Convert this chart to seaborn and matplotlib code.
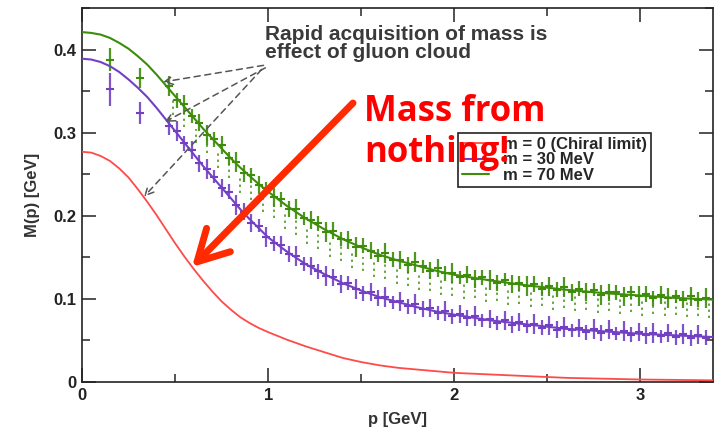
import numpy as np
import pandas as pd
import matplotlib
matplotlib.use("Agg")
import matplotlib.pyplot as plt
from matplotlib.ticker import MultipleLocator
import seaborn as sns

# ---------------- data ----------------
red_p = [0.0, 0.05, 0.10, 0.15, 0.20, 0.25, 0.30, 0.35, 0.40, 0.45, 0.50, 0.55, 0.60,
         0.65, 0.70, 0.75, 0.80, 0.85, 0.90, 0.95, 1.00, 1.10, 1.20, 1.30, 1.40, 1.50,
         1.60, 1.70, 1.80, 2.00, 2.20, 2.40, 2.60, 2.80, 3.00, 3.20, 3.40]
red_m = [0.277, 0.276, 0.272, 0.266, 0.257, 0.246, 0.232, 0.217, 0.201, 0.184, 0.167,
         0.151, 0.136, 0.122, 0.109, 0.097, 0.087, 0.078, 0.071, 0.065, 0.060, 0.051,
         0.043, 0.036, 0.029, 0.024, 0.020, 0.017, 0.015, 0.011, 0.009, 0.007, 0.005,
         0.004, 0.003, 0.0025, 0.002]

curve_p = [0.0, 0.05, 0.10, 0.15, 0.20, 0.25, 0.30, 0.35, 0.40, 0.45, 0.50, 0.55, 0.60,
           0.65, 0.70, 0.75, 0.80, 0.85, 0.90, 0.95, 1.00, 1.1, 1.2, 1.3, 1.4, 1.5, 1.6,
           1.7, 1.8, 1.9, 2.0, 2.2, 2.4, 2.6, 2.8, 3.0, 3.2, 3.4]
green_curve = [0.421, 0.420, 0.418, 0.414, 0.408, 0.401, 0.392, 0.382, 0.370, 0.357,
               0.344, 0.331, 0.318, 0.305, 0.293, 0.281, 0.269, 0.258, 0.248, 0.238,
               0.229, 0.212, 0.197, 0.184, 0.172, 0.162, 0.153, 0.146, 0.140, 0.134,
               0.129, 0.122, 0.116, 0.111, 0.107, 0.104, 0.101, 0.099]
purple_curve = [0.389, 0.388, 0.385, 0.380, 0.373, 0.364, 0.354, 0.343, 0.330, 0.316,
                0.302, 0.288, 0.274, 0.260, 0.247, 0.234, 0.221, 0.208, 0.196, 0.185,
                0.174, 0.157, 0.142, 0.130, 0.119, 0.110, 0.102, 0.096, 0.090, 0.085,
                0.081, 0.074, 0.069, 0.064, 0.061, 0.058, 0.056, 0.054]

data_p = [0.15, 0.31,
          0.47, 0.51, 0.55, 0.59, 0.63, 0.67, 0.71, 0.75, 0.79, 0.83, 0.87, 0.91, 0.95,
          0.99, 1.03, 1.07, 1.11, 1.15, 1.19, 1.23, 1.27, 1.31, 1.35, 1.39, 1.43, 1.47,
          1.51, 1.55, 1.59, 1.63, 1.67, 1.71, 1.75, 1.79, 1.83, 1.87, 1.91, 1.95, 1.99,
          2.03, 2.07, 2.11, 2.15, 2.19, 2.23, 2.27, 2.31, 2.35, 2.39, 2.43, 2.47, 2.51,
          2.55, 2.59, 2.63, 2.67, 2.71, 2.75, 2.79, 2.83, 2.87, 2.91, 2.95, 2.99, 3.03,
          3.07, 3.11, 3.15, 3.19, 3.23, 3.27, 3.31, 3.35]
green_data = [0.388, 0.366,
              0.356, 0.339, 0.334, 0.320, 0.312, 0.297, 0.292, 0.285, 0.269, 0.265, 0.251,
              0.249, 0.237, 0.233, 0.222, 0.220, 0.208, 0.208, 0.197, 0.195, 0.191, 0.181,
              0.182, 0.172, 0.171, 0.162, 0.164, 0.158, 0.152, 0.155, 0.147, 0.147, 0.141,
              0.144, 0.139, 0.134, 0.137, 0.131, 0.131, 0.126, 0.129, 0.124, 0.126, 0.123,
              0.119, 0.123, 0.118, 0.119, 0.116, 0.118, 0.112, 0.115, 0.111, 0.114, 0.108,
              0.112, 0.108, 0.111, 0.105, 0.108, 0.108, 0.103, 0.108, 0.103, 0.106, 0.101,
              0.105, 0.101, 0.103, 0.099, 0.103, 0.099, 0.101]
green_err = [0.014, 0.012,
             0.012, 0.009, 0.011, 0.008, 0.010, 0.012, 0.009, 0.011, 0.008, 0.012, 0.010,
             0.009, 0.011, 0.008, 0.012, 0.009, 0.010, 0.012, 0.008, 0.011, 0.009, 0.012,
             0.010, 0.008, 0.011, 0.012, 0.009, 0.010, 0.008, 0.012, 0.009, 0.011, 0.010,
             0.012, 0.008, 0.010, 0.011, 0.009, 0.012, 0.008, 0.010, 0.011, 0.009, 0.012,
             0.010, 0.008, 0.011, 0.009, 0.012, 0.010, 0.008, 0.011, 0.009, 0.012, 0.010,
             0.009, 0.011, 0.008, 0.012, 0.010, 0.009, 0.011, 0.008, 0.012, 0.010, 0.009,
             0.011, 0.012, 0.008, 0.010, 0.011, 0.009, 0.012]
purple_data = [0.352, 0.324,
               0.308, 0.302, 0.287, 0.279, 0.263, 0.256, 0.247, 0.233, 0.229, 0.213, 0.205,
               0.191, 0.188, 0.175, 0.167, 0.165, 0.154, 0.152, 0.142, 0.140, 0.133, 0.127,
               0.126, 0.118, 0.119, 0.112, 0.107, 0.108, 0.101, 0.102, 0.096, 0.097, 0.091,
               0.094, 0.088, 0.089, 0.083, 0.085, 0.079, 0.082, 0.077, 0.079, 0.074, 0.076,
               0.071, 0.074, 0.069, 0.072, 0.067, 0.070, 0.065, 0.068, 0.063, 0.066, 0.062,
               0.065, 0.060, 0.064, 0.059, 0.063, 0.058, 0.061, 0.057, 0.060, 0.056, 0.059,
               0.055, 0.059, 0.054, 0.058, 0.053, 0.057, 0.053]
purple_err = [0.020, 0.013,
              0.011, 0.012, 0.009, 0.011, 0.010, 0.012, 0.008, 0.011, 0.009, 0.012, 0.010,
              0.011, 0.008, 0.012, 0.009, 0.011, 0.010, 0.012, 0.008, 0.011, 0.009, 0.012,
              0.010, 0.011, 0.008, 0.012, 0.009, 0.011, 0.010, 0.012, 0.008, 0.011, 0.009,
              0.012, 0.010, 0.011, 0.008, 0.012, 0.009, 0.011, 0.010, 0.012, 0.008, 0.011,
              0.009, 0.012, 0.010, 0.011, 0.008, 0.012, 0.009, 0.011, 0.010, 0.012, 0.008,
              0.011, 0.009, 0.012, 0.010, 0.011, 0.008, 0.012, 0.009, 0.011, 0.010, 0.012,
              0.008, 0.011, 0.009, 0.012, 0.010, 0.011, 0.009]

dot_p = [0.49, 0.55, 0.61, 0.67, 0.73, 0.79, 0.85, 0.91, 0.97, 1.03, 1.09, 1.15, 1.21,
         1.27, 1.33, 1.39, 1.45, 1.51, 1.57, 1.63, 1.69, 1.75, 1.81, 1.87, 1.93, 1.99,
         2.05, 2.11, 2.17, 2.23, 2.29, 2.35, 2.41, 2.47, 2.53, 2.59, 2.65, 2.71, 2.77,
         2.83, 2.89, 2.95, 3.01, 3.07, 3.13, 3.19, 3.25, 3.31, 3.37]
dot_m = [0.330, 0.316, 0.296, 0.284, 0.266, 0.254, 0.237, 0.228, 0.214, 0.206, 0.193,
         0.186, 0.175, 0.169, 0.160, 0.155, 0.146, 0.142, 0.135, 0.133, 0.127, 0.125,
         0.120, 0.119, 0.114, 0.113, 0.109, 0.110, 0.105, 0.106, 0.102, 0.103, 0.099,
         0.100, 0.096, 0.098, 0.094, 0.096, 0.092, 0.094, 0.091, 0.093, 0.089, 0.091,
         0.088, 0.090, 0.087, 0.089, 0.086]
DOT_ERR = 0.009

legend_labels = ["m = 0 (Chiral limit)", "m = 30 MeV", "m = 70 MeV"]
x_ticks = [0, 1, 2, 3]
x_tick_labels = ["0", "1", "2", "3"]
y_ticks = [0.0, 0.1, 0.2, 0.3, 0.4]
y_tick_labels = ["0", "0.1", "0.2", "0.3", "0.4"]

# ---------------- styling ----------------
GREEN = "#3d8c0a"
PURPLE = "#7340c4"
RED = "#ff4a4a"
ARROW_RED = "#ff2a00"

sns.set_theme(style="ticks")
plt.rcParams['font.family'] = ['Liberation Sans', 'DejaVu Sans']

fig, ax = plt.subplots(figsize=(7.17, 4.34), dpi=100)
fig.subplots_adjust(left=82/717, right=713/717, top=1-8/434, bottom=1-382/434)

# data with error bars
eb = ax.errorbar(dot_p, dot_m, yerr=DOT_ERR, fmt='none', ecolor=GREEN, elinewidth=1.1,
                 zorder=2)
eb[2][0].set_linestyle((0, (1.5, 2.5)))
ax.errorbar(data_p, purple_data, yerr=purple_err, fmt='none', ecolor=PURPLE,
            elinewidth=1.6, alpha=0.9, zorder=3)
ax.errorbar(data_p, green_data, yerr=green_err, fmt='none', ecolor=GREEN,
            elinewidth=1.6, alpha=0.9, zorder=3)
sns.scatterplot(x=data_p, y=purple_data, marker='_', s=30, linewidth=1.5,
                color=PURPLE, ax=ax, zorder=3, legend=False)
sns.scatterplot(x=data_p, y=green_data, marker='_', s=30, linewidth=1.5,
                color=GREEN, ax=ax, zorder=3, legend=False)

# curves
sns.lineplot(x=red_p, y=red_m, color=RED, lw=1.3, ax=ax, label=legend_labels[0], zorder=4)
sns.lineplot(x=curve_p, y=purple_curve, color=PURPLE, lw=1.5, ax=ax,
             label=legend_labels[1], zorder=4)
sns.lineplot(x=curve_p, y=green_curve, color=GREEN, lw=1.5, ax=ax,
             label=legend_labels[2], zorder=4)

ax.set_xlim(0, 3.39)
ax.set_ylim(0, 0.45)
ax.set_xticks(x_ticks)
ax.set_xticklabels(x_tick_labels)
ax.set_yticks(y_ticks)
ax.set_yticklabels(y_tick_labels)
ax.xaxis.set_minor_locator(MultipleLocator(0.5))
ax.yaxis.set_minor_locator(MultipleLocator(0.05))
ax.tick_params(which='major', direction='in', length=10, width=1.1, top=True, right=True,
               labelsize=12, colors='#222222', pad=4)
ax.tick_params(which='minor', direction='in', length=6, width=1.1, top=True, right=True)
for lab in ax.get_xticklabels() + ax.get_yticklabels():
    lab.set_fontweight('bold')
for s in ax.spines.values():
    s.set_linewidth(1.2)
    s.set_color('#222222')

ax.set_xlabel("p [GeV]", fontsize=12, fontweight='bold', color='#333333', labelpad=7)
ax.set_ylabel("M(p) [GeV]", fontsize=12, fontweight='bold', color='#333333', labelpad=10)

leg = ax.legend(loc='upper left', bbox_to_anchor=((458-82)/631, (382-133)/374),
                borderaxespad=0, frameon=True, fancybox=False, framealpha=1,
                edgecolor='#222222', prop={'weight': 'bold', 'size': 12},
                handlelength=1.6, handletextpad=0.85, labelspacing=0.02,
                borderpad=0.25)
leg.get_frame().set_linewidth(1.2)
leg.set_zorder(5)

# annotation text + gray dashed arrows
ax.text(0.984, 0.430, "Rapid acquisition of mass is\neffect of gluon cloud",
        fontsize=15, fontweight='bold', color='#3a3a3a', va='top', ha='left',
        linespacing=0.95, zorder=6)
starts = [(0.975, 0.381), (0.985, 0.378), (0.965, 0.376)]
ends = [(0.435, 0.361), (0.446, 0.313), (0.333, 0.223)]
for st, en in zip(starts, ends):
    ax.annotate("", xy=en, xytext=st, xycoords='data', textcoords='data',
                arrowprops=dict(arrowstyle='->,head_length=0.5,head_width=0.25',
                                color='#555555', lw=1.1, linestyle=(0, (4, 3)),
                                shrinkA=0, shrinkB=0), zorder=6)

# red arrow and big text
ax.annotate("", xy=(192, 434-267), xytext=(353, 434-103), xycoords='figure pixels',
            textcoords='figure pixels',
            arrowprops=dict(arrowstyle='->,head_length=0.55,head_width=0.3',
                            color=ARROW_RED, lw=5, mutation_scale=40,
                            shrinkA=0, shrinkB=0), zorder=7)
fig.text(364/717, 1-94/434, "Mass from\nnothing!", fontsize=25, fontweight='bold',
         color='#ff0000', va='top', ha='left', linespacing=1.19,
         family=['Open Sans', 'DejaVu Sans'], zorder=8)

fig.savefig("out.png", dpi=100)
